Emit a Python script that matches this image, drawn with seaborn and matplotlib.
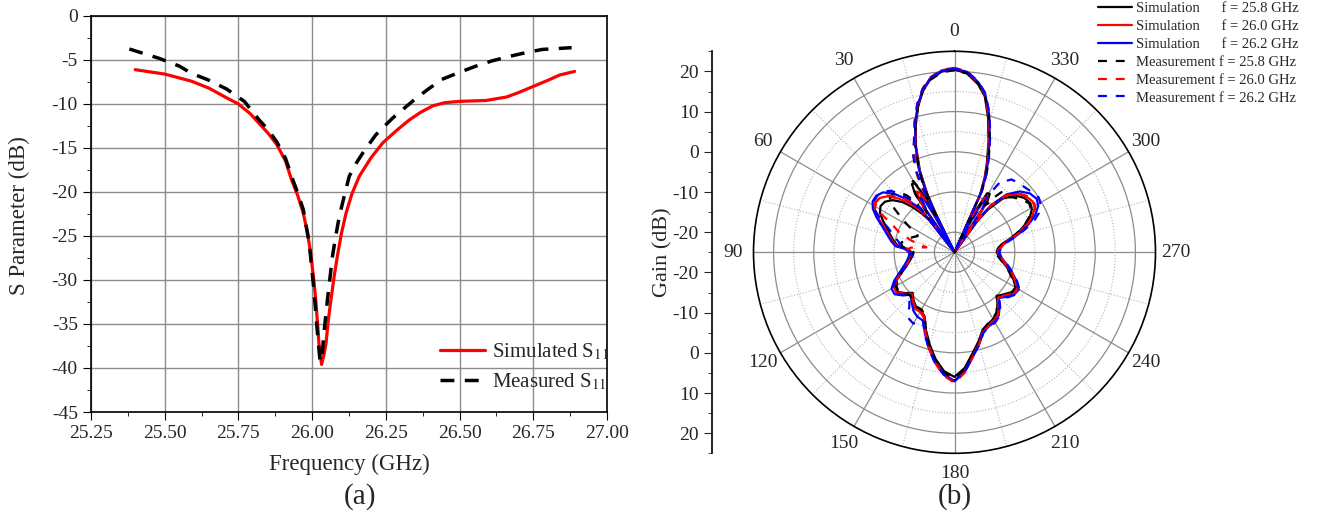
import numpy as np
import pandas as pd
import matplotlib
matplotlib.use("Agg")
import matplotlib.pyplot as plt
from matplotlib.ticker import MultipleLocator, FixedLocator
import seaborn as sns

# ---- (a) reflection coefficient ----
freq_sim = [25.40, 25.50, 25.59, 25.65, 25.71, 25.75, 25.79, 25.82, 25.85, 25.88,
            25.91, 25.93, 25.95, 25.97, 25.985, 25.995, 26.005, 26.012, 26.018, 26.023,
            26.032, 26.04, 26.047, 26.055, 26.064, 26.075, 26.087, 26.10, 26.115, 26.135,
            26.16, 26.20, 26.24, 26.29, 26.33, 26.37, 26.41, 26.45, 26.50, 26.59,
            26.66, 26.70, 26.75, 26.80, 26.84, 26.89]
s11_sim = [-6.1, -6.6, -7.4, -8.2, -9.3, -10.0, -11.1, -12.2, -13.3, -14.6,
           -16.5, -18.6, -20.3, -22.4, -24.8, -27.0, -29.8, -32.2, -34.8, -37.2,
           -39.6, -38.5, -37.2, -34.5, -32.2, -29.5, -27.0, -24.6, -22.4, -20.2,
           -18.2, -16.1, -14.4, -12.9, -11.8, -10.9, -10.2, -9.85, -9.7, -9.6,
           -9.2, -8.7, -8.0, -7.3, -6.7, -6.3]
freq_meas = [25.38, 25.48, 25.55, 25.59, 25.65, 25.71, 25.77, 25.82, 25.85, 25.88,
             25.91, 25.93, 25.95, 25.97, 25.99, 26.006, 26.018, 26.027, 26.034, 26.04,
             26.052, 26.069, 26.08, 26.092, 26.11, 26.126, 26.15, 26.171, 26.216, 26.273,
             26.34, 26.39, 26.44, 26.50, 26.555, 26.61, 26.668, 26.72, 26.78, 26.88]
s11_meas = [-3.75, -4.8, -5.7, -6.5, -7.3, -8.3, -9.7, -11.8, -12.9, -14.3,
            -16.2, -18.2, -20.0, -22.0, -25.8, -31.1, -36.0, -39.3, -38.5, -36.0,
            -32.2, -27.3, -25.0, -22.8, -20.3, -18.2, -16.7, -15.6, -13.5, -11.6,
            -9.7, -8.4, -7.2, -6.4, -5.7, -5.1, -4.6, -4.2, -3.8, -3.6]

# ---- (b) radiation patterns (deg, dB) ----
angles = [0, 4, 8, 11, 14, 17, 20, 23, 25, 26,
          27, 28, 30, 32, 34, 36, 38, 40, 43, 46,
          50, 54, 58, 62, 66, 70, 75, 80, 84, 86,
          90, 95, 100, 105, 110, 115, 120, 125, 130, 134,
          140, 145, 150, 155, 160, 165, 170, 175, 180, 185,
          190, 195, 200, 205, 210, 215, 220, 224, 230, 235,
          240, 245, 250, 255, 260, 265, 270, 275, 280, 284,
          288, 292, 295, 299, 303, 308, 313, 318, 322, 324,
          325, 327, 329, 331, 333, 334, 336, 338, 340, 343,
          346, 349, 352, 356, 360]

sim_258 = [20.5, 20.1, 18.4, 16.0, 12.4, 8.0, 3.0, -3.0, -9.0, -15.0,
           -25.0, -9.0, -5.2, -5.0, -7.5, -25.0, -15.0, -12.5, -9.5, -7.0,
           -4.8, -3.6, -3.3, -4.0, -5.5, -7.0, -8.5, -9.8, -11.0, -13.5,
           -14.3, -14.2, -13.8, -12.8, -11.3, -9.3, -8.0, -7.8, -9.2, -10.5,
           -9.2, -8.4, -8.3, -7.4, -4.3, -1.2, 2.0, 4.7, 6.0, 3.9,
           0.6, -2.0, -4.5, -5.3, -5.8, -6.6, -8.4, -9.8, -8.8, -7.7,
           -7.4, -8.8, -10.3, -11.7, -13.0, -14.0, -14.5, -14.2, -13.0, -10.6,
           -8.0, -5.8, -4.3, -3.0, -2.5, -3.0, -4.3, -7.0, -11.5, -16.0,
           -25.0, -10.0, -8.0, -8.2, -13.0, -25.0, -9.5, -5.0, -1.5, 4.0,
           9.5, 14.5, 17.2, 19.6, 20.5]
sim_260 = [20.8, 20.4, 18.7, 16.2, 12.6, 8.2, 3.2, -2.5, -8.0, -13.0,
           -25.0, -14.0, -8.0, -7.2, -10.0, -25.0, -13.5, -11.0, -8.0, -5.8,
           -3.3, -2.0, -1.8, -2.6, -4.3, -6.3, -8.0, -9.4, -10.6, -13.0,
           -14.2, -14.0, -13.5, -12.5, -11.0, -9.0, -7.6, -7.4, -8.8, -10.2,
           -8.8, -7.8, -7.9, -7.0, -3.8, -0.6, 2.6, 5.4, 7.0, 4.6,
           1.2, -1.6, -4.2, -5.0, -5.4, -6.2, -8.0, -9.6, -8.4, -7.3,
           -7.0, -8.4, -10.0, -11.4, -12.8, -13.8, -14.3, -13.9, -12.8, -10.2,
           -7.6, -5.2, -3.6, -2.2, -1.8, -2.4, -3.6, -6.3, -10.5, -14.5,
           -25.0, -11.5, -9.0, -9.5, -14.0, -25.0, -9.0, -4.5, -1.0, 4.5,
           10.0, 14.8, 17.5, 19.9, 20.8]
sim_262 = [20.6, 20.2, 18.6, 16.2, 12.8, 8.5, 3.5, -2.0, -7.5, -12.5,
           -25.0, -15.0, -10.0, -9.0, -11.5, -25.0, -12.0, -9.5, -6.5, -4.0,
           -1.8, -1.0, -1.0, -2.0, -3.8, -5.8, -7.6, -9.0, -10.2, -12.5,
           -13.8, -13.6, -13.0, -12.0, -10.5, -8.5, -6.9, -6.8, -8.3, -9.8,
           -8.5, -7.2, -6.5, -6.3, -3.5, -0.3, 2.8, 5.5, 7.1, 4.8,
           1.4, -1.3, -3.9, -4.7, -5.0, -5.8, -7.5, -9.2, -7.8, -6.8,
           -6.5, -7.9, -9.6, -11.0, -12.5, -13.5, -14.0, -13.6, -12.4, -9.7,
           -7.0, -4.5, -2.8, -1.2, -0.6, -1.2, -2.8, -5.6, -10.0, -14.0,
           -25.0, -12.5, -10.0, -10.5, -15.0, -25.0, -8.5, -4.0, -0.5, 5.0,
           10.5, 15.0, 17.7, 20.0, 20.6]
meas_258 = [20.3, 19.9, 18.3, 16.0, 12.5, 8.3, 3.5, -2.0, -6.5, -11.0,
            -16.0, -8.5, -4.5, -4.8, -8.0, -16.0, -9.0, -6.5, -4.5, -3.8,
            -4.0, -6.5, -10.0, -13.0, -15.0, -14.0, -12.5, -11.5, -12.0, -14.0,
            -14.8, -14.5, -13.8, -12.8, -11.2, -9.6, -8.3, -8.0, -9.0, -9.6,
            -9.0, -8.5, -8.6, -7.6, -4.0, -0.8, 2.2, 5.0, 6.3, 4.2,
            0.8, -1.8, -4.4, -5.4, -5.9, -6.8, -8.6, -9.9, -8.6, -7.5,
            -7.5, -9.0, -10.5, -11.8, -13.2, -14.2, -14.6, -14.2, -12.6, -10.4,
            -8.2, -6.0, -4.6, -3.2, -2.8, -3.6, -5.0, -6.5, -6.0, -8.0,
            -10.0, -11.0, -9.0, -10.0, -16.0, -25.0, -8.0, -3.5, 0.0, 5.0,
            10.3, 14.8, 17.4, 19.6, 20.3]
meas_260 = [20.9, 20.5, 18.9, 16.5, 13.0, 8.8, 4.0, 0.0, -1.5, -4.0,
            -8.0, -11.0, -9.0, -8.0, -11.0, -18.0, -12.0, -9.0, -6.5, -5.0,
            -3.0, -2.0, -1.6, -4.0, -8.0, -10.3, -14.0, -17.9, -14.0, -13.5,
            -13.5, -13.8, -13.5, -12.6, -11.2, -9.2, -7.8, -7.6, -9.0, -10.0,
            -9.0, -8.0, -8.2, -7.2, -3.8, -0.4, 2.9, 5.8, 7.5, 5.0,
            1.4, -1.4, -4.0, -4.8, -5.3, -6.0, -7.8, -9.4, -8.2, -7.0,
            -6.8, -8.2, -9.8, -11.2, -12.6, -13.6, -14.0, -13.6, -12.5, -10.0,
            -7.4, -5.0, -3.4, -2.0, -1.5, -2.2, -3.4, -6.0, -10.0, -14.0,
            -25.0, -12.0, -9.5, -10.0, -14.5, -25.0, -8.0, -3.8, -0.5, 5.0,
            10.5, 15.2, 17.8, 20.1, 20.9]
meas_262 = [20.7, 20.3, 18.8, 16.5, 13.2, 9.0, 4.5, 1.5, -2.0, -6.0,
            -10.0, -13.0, -11.0, -10.0, -13.0, -20.0, -11.0, -8.0, -5.0, -3.0,
            -1.5, -1.2, -1.2, -2.5, -5.0, -7.5, -9.5, -11.0, -11.4, -12.2,
            -14.0, -14.5, -14.0, -12.8, -11.0, -9.0, -7.2, -7.0, -8.8, -9.5,
            -7.5, -5.0, -4.5, -6.5, -3.3, -0.2, 3.0, 5.6, 7.0, 4.8,
            1.3, -1.2, -3.8, -4.5, -4.8, -5.6, -7.3, -9.0, -7.6, -6.6,
            -6.3, -7.8, -9.5, -11.0, -12.4, -13.4, -13.8, -13.4, -12.2, -9.5,
            -6.5, -3.5, -1.8, -0.5, 0.0, -0.6, -1.2, -1.6, -2.0, -3.0,
            -4.0, -4.2, -8.0, -14.0, -20.0, -25.0, -8.0, -3.5, 0.0, 5.5,
            10.8, 15.3, 17.8, 20.1, 20.7]

pattern_labels = ["Simulation      f = 25.8 GHz", "Simulation      f = 26.0 GHz",
                  "Simulation      f = 26.2 GHz", "Measurement f = 25.8 GHz",
                  "Measurement f = 26.0 GHz", "Measurement f = 26.2 GHz"]

sns.set_style("white")
plt.rcParams['font.family'] = ['Liberation Serif', 'DejaVu Serif']
plt.rcParams['mathtext.fontset'] = 'stix'
plt.rcParams['axes.unicode_minus'] = False

W, H = 1321, 523
fig = plt.figure(figsize=(W / 100, H / 100), dpi=100)

# ---------------- panel (a) ----------------
ax = fig.add_axes([91 / W, 1 - 412 / H, 516 / W, 396 / H])
df_sim = pd.DataFrame({"f": freq_sim, "s": s11_sim})
df_meas = pd.DataFrame({"f": freq_meas, "s": s11_meas})
sns.lineplot(data=df_sim, x="f", y="s", ax=ax, color="#ff0000", lw=2.3,
             label="Simulated S$_{11}$", errorbar=None)
sns.lineplot(data=df_meas, x="f", y="s", ax=ax, color="black", lw=2.5,
             linestyle=(0, (4, 3)), label="Measured S$_{11}$", errorbar=None)
ax.set_xlim(25.25, 27.0)
ax.set_ylim(-45, 0)
ax.xaxis.set_major_locator(MultipleLocator(0.25))
ax.xaxis.set_minor_locator(MultipleLocator(0.125))
ax.yaxis.set_major_locator(MultipleLocator(5))
ax.yaxis.set_minor_locator(MultipleLocator(2.5))
ax.set_xticklabels([f"{v:.2f}" for v in ax.get_xticks()])
ax.grid(True, which="major", color="#8c8c8c", lw=1.0)
ax.tick_params(which="both", direction="out", labelsize=14, bottom=True, left=True,
               top=False, right=False, color="black")
ax.tick_params(which="major", length=6)
ax.tick_params(which="minor", length=3)
for sp in ax.spines.values():
    sp.set_color("black")
    sp.set_linewidth(1.2)
ax.set_xlabel("Frequency (GHz)", fontsize=16.5)
ax.set_ylabel("S Parameter (dB)", fontsize=16.5)
ax.xaxis.set_label_coords(349 / W, 1 - 454 / H, transform=fig.transFigure)
ax.yaxis.set_label_coords(30 / W, 1 - 216 / H, transform=fig.transFigure)
ax.legend(loc="upper left", bbox_to_anchor=(430 / W, 1 - 331 / H),
          bbox_transform=fig.transFigure, frameon=False, fontsize=15,
          handlelength=2.15, handletextpad=0.33, labelspacing=0.45, borderpad=0)
fig.text(360 / W, 1 - 497 / H, "(a)", fontsize=21, ha="center", va="center")

# ---------------- panel (b) ----------------
cx, cy, rad = 954.5, 252.3, 201
pax = fig.add_axes([(cx - rad) / W, 1 - (cy + rad) / H, 2 * rad / W, 2 * rad / H],
                   projection="polar")
pax.set_theta_zero_location("N")
pax.set_theta_direction(1)
theta = np.deg2rad(angles)
colors = ["black", "#ff0000", "#0000ff"] * 2
series = [sim_258, sim_260, sim_262, meas_258, meas_260, meas_262]
for i, (vals, lab) in enumerate(zip(series, pattern_labels)):
    ls = "-" if i < 3 else (0, (4, 4))
    sns.lineplot(x=theta, y=vals, ax=pax, color=colors[i], lw=1.6, linestyle=ls,
                 label=lab, errorbar=None, sort=False, legend=False)
pax.set_rlim(-25, 25)
pax.set_yticks([-20, -10, 0, 10, 20])
pax.set_yticks([-15, -5, 5, 15], minor=True)
pax.set_yticklabels([])
pax.set_xticks(np.deg2rad(np.arange(0, 360, 30)))
pax.set_xticks(np.deg2rad(np.arange(15, 360, 30)), minor=True)
pax.set_xticklabels([str(a) for a in range(0, 360, 30)], fontsize=14)
pax.grid(True, which="major", color="#8c8c8c", lw=0.9, linestyle="-")
pax.grid(True, which="minor", color="#b5b5b5", lw=0.8, linestyle=":")
pax.tick_params(axis="x", which="minor", length=5, direction="in", color="black")
pax.tick_params(axis="x", which="major", pad=4)
pax.spines["polar"].set_color("black")
pax.spines["polar"].set_linewidth(1.2)
pax.set_xlabel("")
pax.set_ylabel("")

handles = pax.get_lines()[:6]
fig.legend(handles=handles, labels=pattern_labels, loc="upper left",
           bbox_to_anchor=(1098 / W, 1 - 2 / H), frameon=False, fontsize=10.5,
           handlelength=2.3, handletextpad=0.3, labelspacing=0.32,
           borderpad=0, borderaxespad=0)

# separate gain axis to the left of the polar plot
gax = fig.add_axes([712 / W, 1 - (cy + rad) / H, 0.0005, 2 * rad / H])
gax.set_ylim(-50, 50)
gax.set_xticks([])
major_pos = [45, 35, 25, 15, 5, -5, -15, -25, -35, -45]
major_lab = ["20", "10", "0", "-10", "-20", "-20", "-10", "0", "10", "20"]
gax.yaxis.set_major_locator(FixedLocator(major_pos))
gax.set_yticklabels(major_lab)
gax.yaxis.set_minor_locator(FixedLocator([50, 40, 30, 20, 10, 0, -10, -20, -30, -40, -50]))
gax.tick_params(axis="y", which="both", direction="out", labelsize=14, left=True)
gax.tick_params(axis="y", which="major", length=6)
gax.tick_params(axis="y", which="minor", length=3)
for k in ["right", "top", "bottom"]:
    gax.spines[k].set_visible(False)
gax.spines["left"].set_color("black")
gax.spines["left"].set_linewidth(1.2)
gax.patch.set_visible(False)
gax.set_ylabel("Gain (dB)", fontsize=16)
gax.yaxis.set_label_coords(672 / W, 1 - cy / H, transform=fig.transFigure)
fig.text(cx / W, 1 - 497 / H, "(b)", fontsize=21, ha="center", va="center")

fig.savefig("out.png", dpi=100)
